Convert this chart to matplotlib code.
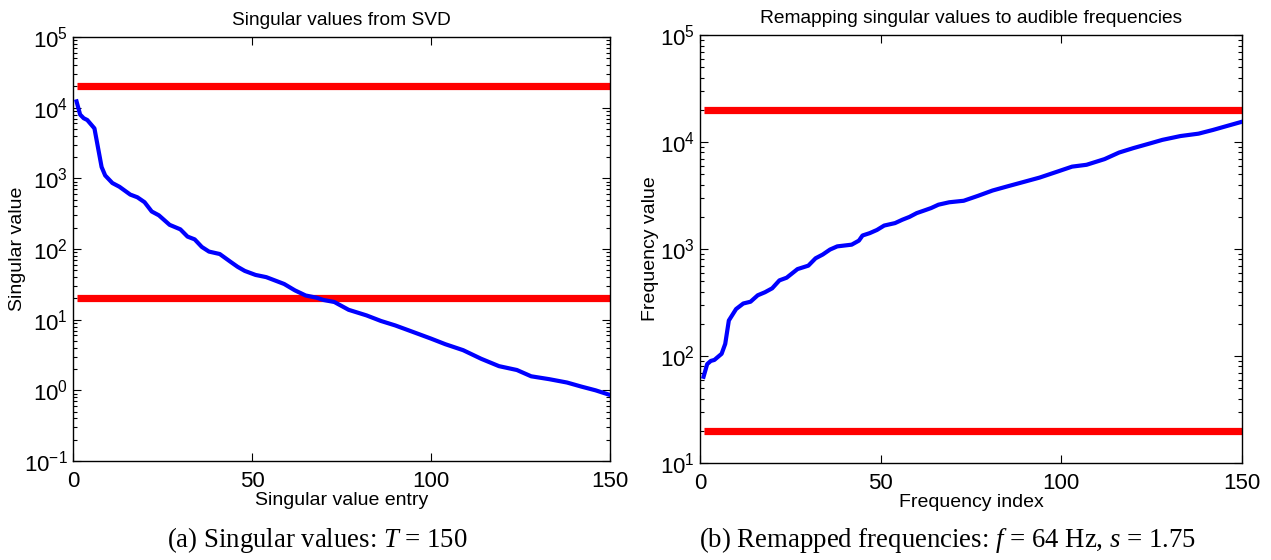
import matplotlib
matplotlib.use("Agg")
import matplotlib.pyplot as plt
from matplotlib.ticker import LogLocator, NullFormatter, FixedLocator

plt.rcParams["font.family"] = ["Liberation Sans", "DejaVu Sans"]
plt.rcParams["mathtext.fontset"] = "custom"
plt.rcParams["mathtext.rm"] = "Liberation Sans"
plt.rcParams["mathtext.it"] = "Liberation Serif:italic"

# singular values
sv_idx = [1, 2, 3, 4, 6, 8, 9, 11, 13, 16, 18, 20, 22, 24, 27, 30, 32, 34, 36,
          38, 41, 44, 46, 48, 51, 54, 57, 59, 62, 65, 68, 70, 73, 77, 82, 86,
          90, 95, 100, 104, 109, 114, 119, 124, 128, 133, 138, 142, 146, 150]
sv_val = [12300, 8000, 7100, 6700, 5100, 1450, 1100, 860, 760, 590, 540, 460,
          340, 300, 220, 190, 150, 137, 107, 92, 85, 66, 56, 49, 43, 40, 35,
          32, 26, 22, 20.5, 19, 17.8, 13.8, 11.5, 9.6, 8.3, 6.7, 5.4, 4.5, 3.7,
          2.8, 2.2, 1.94, 1.58, 1.44, 1.29, 1.13, 1.0, 0.86]

# remapped frequencies
fr_idx = [1, 2, 3, 4, 6, 7, 8, 10, 12, 14, 16, 18, 20, 22, 24, 27, 30, 32, 34,
          36, 38, 42, 44, 45, 47, 49, 51, 54, 56, 58, 60, 62, 64, 66, 69, 73,
          77, 81, 85, 90, 94, 99, 103, 107, 112, 116, 120, 125, 128, 133, 138,
          142, 146, 150]
fr_val = [64, 84, 90, 92, 105, 130, 215, 275, 310, 322, 370, 395, 430, 510,
          540, 650, 700, 820, 890, 990, 1060, 1100, 1200, 1340, 1410, 1510,
          1660, 1750, 1880, 2000, 2170, 2290, 2420, 2600, 2740, 2830, 3150,
          3530, 3850, 4280, 4660, 5310, 5900, 6140, 6940, 7990, 8800, 9820,
          10500, 11400, 12000, 13000, 14200, 15500]

audible = [20, 20000]
T = 150

fig = plt.figure(figsize=(12.71, 5.6), dpi=100)
ax1 = fig.add_axes([0.0574, 0.1768, 0.4225, 0.757])
ax2 = fig.add_axes([0.5507, 0.1732, 0.4264, 0.764])


def style(ax, ylim):
    ax.set_yscale("log")
    ax.set_xlim(0, T)
    ax.set_ylim(*ylim)
    ax.xaxis.set_major_locator(FixedLocator([0, 50, 100, 150]))
    ax.yaxis.set_major_locator(LogLocator(base=10, numticks=12))
    ax.yaxis.set_minor_locator(LogLocator(base=10, subs=range(2, 10), numticks=12))
    ax.yaxis.set_minor_formatter(NullFormatter())
    ax.tick_params(which="both", direction="in", top=True, right=True,
                   labelsize=16, width=0.8)
    ax.tick_params(which="major", length=6)
    ax.tick_params(which="minor", length=3)
    ax.tick_params(axis="x", pad=7)
    for s in ax.spines.values():
        s.set_linewidth(1.0)


for ax, idx, val, ylim in [(ax1, sv_idx, sv_val, (1e-1, 1e5)),
                           (ax2, fr_idx, fr_val, (1e1, 1e5))]:
    for a in audible:
        ax.plot([1, T], [a, a], color="#ff0000", lw=5.2, solid_capstyle="butt",
                zorder=2)
    ax.plot(idx, val, color="#0000ff", lw=3.0, zorder=3)
    style(ax, ylim)

ax1.set_title("Singular values from SVD", fontsize=13.8, pad=9)
ax1.set_xlabel("Singular value entry", fontsize=14, labelpad=0)
ax1.set_ylabel("Singular value", fontsize=14)
ax1.yaxis.set_label_coords(-0.087, 0.5)
ax2.set_title("Remapping singular values to audible frequencies",
              fontsize=13.8, pad=9)
ax2.set_xlabel("Frequency index", fontsize=14, labelpad=0)
ax2.set_ylabel("Frequency value", fontsize=14)
ax2.yaxis.set_label_coords(-0.076, 0.5)

fig.text(0.2494, 0.036, "(a) Singular values: $T$ = 150", ha="center",
         va="center", fontsize=19.3, family="Liberation Serif")
fig.text(0.7455, 0.036, "(b) Remapped frequencies: $f$ = 64 Hz, $s$ = 1.75",
         ha="center", va="center", fontsize=19.3, family="Liberation Serif")

fig.savefig("out.png", dpi=100)
